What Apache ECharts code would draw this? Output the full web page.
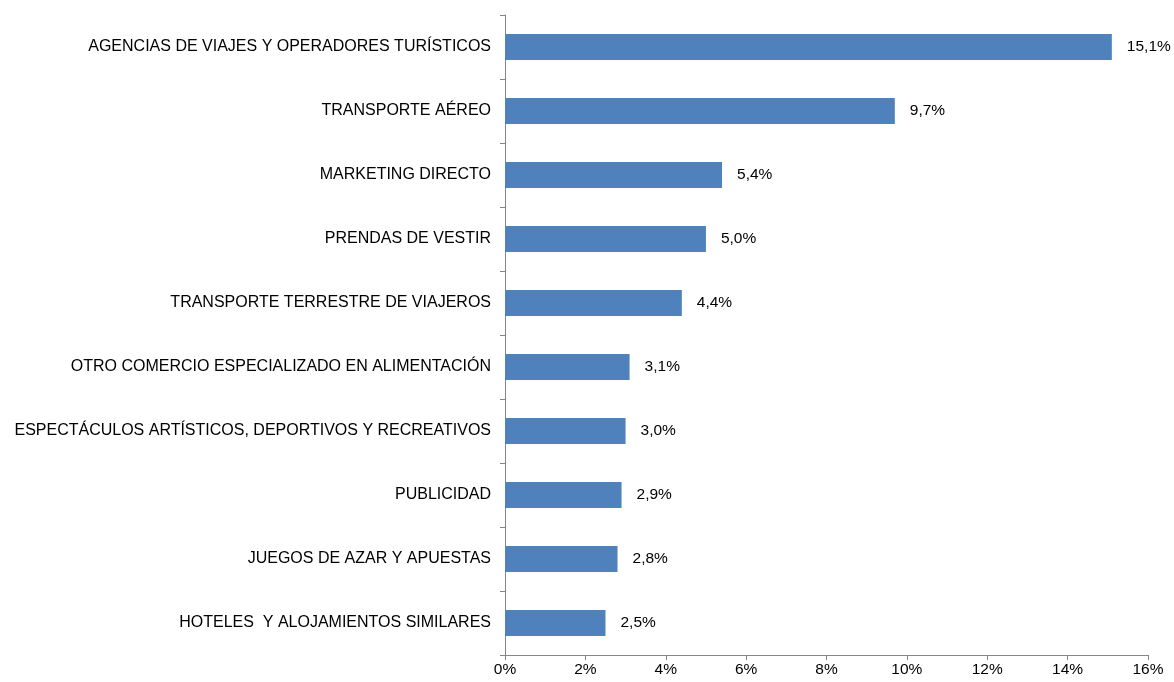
<!DOCTYPE html>
<html>
<head>
<meta charset="utf-8">
<script src="https://cdn.jsdelivr.net/npm/echarts@6/dist/echarts.min.js"></script>
<style>html,body{margin:0;padding:0;background:#fff;}#c{width:1174px;height:682px;}</style>
</head>
<body>
<div id="c"></div>
<script>
const categories = [
  "AGENCIAS DE VIAJES Y OPERADORES TURÍSTICOS",
  "TRANSPORTE AÉREO",
  "MARKETING DIRECTO",
  "PRENDAS DE VESTIR",
  "TRANSPORTE TERRESTRE DE VIAJEROS",
  "OTRO COMERCIO ESPECIALIZADO EN ALIMENTACIÓN",
  "ESPECTÁCULOS ARTÍSTICOS, DEPORTIVOS Y RECREATIVOS",
  "PUBLICIDAD",
  "JUEGOS DE AZAR Y APUESTAS",
  "HOTELES  Y ALOJAMIENTOS SIMILARES"
];
const values = [15.1, 9.7, 5.4, 5.0, 4.4, 3.1, 3.0, 2.9, 2.8, 2.5];
const xTicks = [0, 2, 4, 6, 8, 10, 12, 14, 16];

const chart = echarts.init(document.getElementById('c'), null, {renderer: 'canvas'});
const font = 'Liberation Sans, Arial, sans-serif';
chart.setOption({
  animation: false,
  grid: {left: 505, right: 26, top: 15, bottom: 27, containLabel: false},
  xAxis: {
    type: 'value', min: xTicks[0], max: xTicks[xTicks.length - 1], interval: 2,
    axisLine: {show: true, lineStyle: {color: '#868686', width: 1}},
    axisTick: {show: true, length: 5, lineStyle: {color: '#868686'}},
    splitLine: {show: false},
    axisLabel: {formatter: v => v + '%', color: '#000', fontFamily: font, fontSize: 15.5, margin: 7}
  },
  yAxis: {
    type: 'category', data: categories, inverse: true,
    axisLine: {show: true, lineStyle: {color: '#868686', width: 1}},
    axisTick: {show: true, length: 5, lineStyle: {color: '#868686'}},
    axisLabel: {color: '#000', fontFamily: font, fontSize: 16, margin: 14}
  },
  series: [{
    type: 'bar', data: values, barWidth: 26,
    itemStyle: {color: '#4F81BD'},
    label: {show: true, position: 'right', distance: 15, color: '#000', fontFamily: font, fontSize: 15.5,
      formatter: p => p.value.toFixed(1).replace('.', ',') + '%'}
  }]
});
</script>
</body>
</html>
